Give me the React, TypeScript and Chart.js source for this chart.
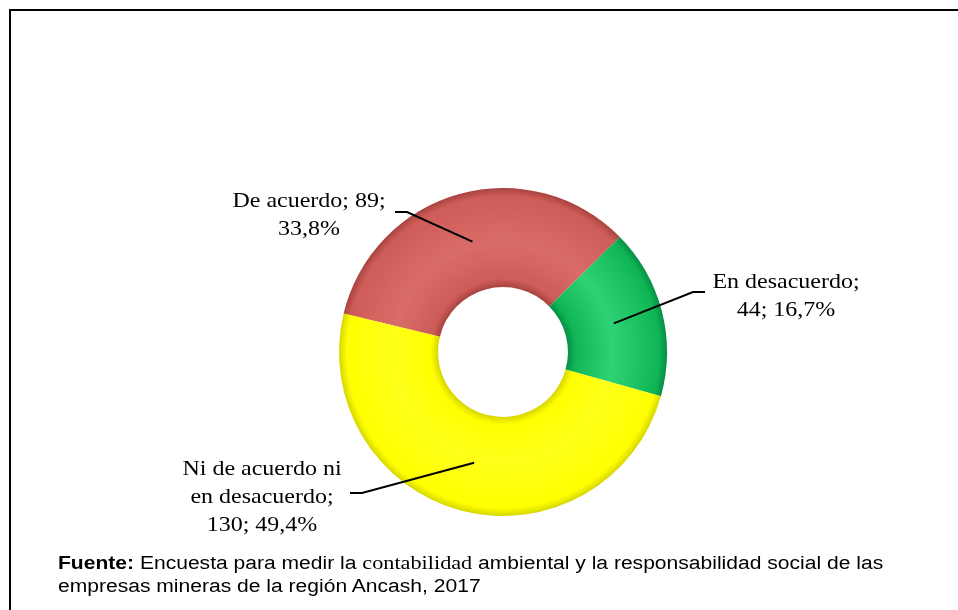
import React, { useEffect, useRef } from "react";
import { Chart, registerables } from "chart.js";

Chart.register(...registerables);

// ---- data ----
const categories = ["De acuerdo", "En desacuerdo", "Ni de acuerdo ni en desacuerdo"];
const counts = [89, 44, 130];

// ---- styles ----
const baseColors = ["#CE5C58", "#10B655", "#FFFF00"];
const lightColors = ["#D96C68", "#2ED274", "#FFFF1A"];
const edgeColors = ["#A8433F", "#068F46", "#D6D600"];

// label placement (text block centre x, first baseline y, leader stub)
const labelLayout = [
  { x: 309, y: 207, lineY: 212, stubFrom: 395, stubTo: 407 },
  { x: 786, y: 288, lineY: 292, stubFrom: 705, stubTo: 693 },
  { x: 262, y: 475, lineY: 493, stubFrom: 350, stubTo: 362 },
];

const LABEL_FONT = "22px 'Liberation Serif', 'Times New Roman', serif";
const LABEL_SCALE_X = 1.09;
const LABEL_LINE_H = 28;
const LABEL_MAX_W = 170;

function pct(v: number, total: number) {
  return ((v / total) * 100).toFixed(1).replace(".", ",");
}

function wrap(ctx: CanvasRenderingContext2D, text: string, maxW: number) {
  const words = text.split(" ");
  const lines: string[] = [];
  let cur = "";
  for (const w of words) {
    const test = cur ? cur + " " + w : w;
    if (cur && ctx.measureText(test).width * LABEL_SCALE_X > maxW) {
      lines.push(cur);
      cur = w;
    } else cur = test;
  }
  if (cur) lines.push(cur);
  return lines;
}

const labelPlugin = {
  id: "leaderLabels",
  afterDatasetsDraw(chart: any) {
    const ctx: CanvasRenderingContext2D = chart.ctx;
    const meta = chart.getDatasetMeta(0);
    const data = chart.data.datasets[0].data as number[];
    const total = data.reduce((a, b) => a + b, 0);
    ctx.save();
    ctx.font = LABEL_FONT;
    ctx.fillStyle = "#000";
    ctx.textAlign = "center";
    ctx.textBaseline = "alphabetic";
    meta.data.forEach((arc: any, i: number) => {
      const lay = labelLayout[i];
      const text = `${chart.data.labels[i]}; ${data[i]}; ${pct(data[i], total)}%`;
      const lines = wrap(ctx, text, LABEL_MAX_W);
      lines.forEach((ln, k) => {
        ctx.save();
        ctx.translate(lay.x, lay.y + k * LABEL_LINE_H);
        ctx.scale(LABEL_SCALE_X, 1);
        ctx.fillText(ln, 0, 0);
        ctx.restore();
      });
      const p = arc.getCenterPoint();
      ctx.beginPath();
      ctx.strokeStyle = "#000";
      ctx.lineWidth = 2;
      ctx.moveTo(lay.stubFrom, lay.lineY);
      ctx.lineTo(lay.stubTo, lay.lineY);
      ctx.lineTo(p.x, p.y);
      ctx.stroke();
    });
    ctx.restore();
  },
};

export default function App() {
  const ref = useRef<HTMLCanvasElement | null>(null);

  useEffect(() => {
    if (!ref.current) return;
    const chart = new Chart(ref.current, {
      type: "doughnut",
      data: {
        labels: categories,
        datasets: [
          {
            data: counts,
            borderWidth: 0,
            backgroundColor: (c: any) => {
              const i = c.dataIndex;
              const ch = c.chart;
              const area = ch.chartArea;
              if (!area) return baseColors[i];
              const cx = (area.left + area.right) / 2;
              const cy = (area.top + area.bottom) / 2;
              const outer = Math.min(area.right - area.left, area.bottom - area.top) / 2;
              const inner = outer * 0.396;
              const g = ch.ctx.createRadialGradient(cx, cy, inner, cx, cy, outer);
              g.addColorStop(0, edgeColors[i]);
              g.addColorStop(0.08, baseColors[i]);
              g.addColorStop(0.45, lightColors[i]);
              g.addColorStop(0.92, baseColors[i]);
              g.addColorStop(1, edgeColors[i]);
              return g;
            },
          },
        ],
      },
      options: {
        responsive: false,
        animation: false,
        devicePixelRatio: 1,
        rotation: -76.4,
        cutout: "39.6%",
        layout: { padding: { left: 339, right: 291, top: 188, bottom: 94 } },
        plugins: {
          legend: { display: false },
          tooltip: { enabled: false },
        },
      } as any,
      plugins: [labelPlugin],
    });
    return () => chart.destroy();
  }, []);

  return (
    <div
      style={{
        position: "absolute",
        left: 0,
        top: 0,
        width: 958,
        height: 610,
        background: "#fff",
        overflow: "hidden",
      }}
    >
      <canvas ref={ref} width={958} height={610} style={{ position: "absolute", left: 0, top: 0 }} />
      <div
        style={{
          position: "absolute",
          left: 9,
          top: 9,
          width: 949,
          height: 601,
          boxSizing: "border-box",
          borderTop: "2px solid #000",
          borderLeft: "2px solid #000",
          pointerEvents: "none",
        }}
      />
      <div
        style={{
          position: "absolute",
          left: 58,
          top: 551,
          fontFamily: "'Liberation Sans', Arial, sans-serif",
          fontSize: 18,
          lineHeight: "23px",
          color: "#000",
          whiteSpace: "nowrap",
          transform: "scaleX(1.17)",
          transformOrigin: "left top",
        }}
      >
        <b>Fuente:</b> Encuesta para medir la{" "}
        <span style={{ fontFamily: "'Liberation Serif', 'Times New Roman', serif", fontSize: 19 }}>
          contabilidad
        </span>{" "}
        ambiental y la responsabilidad social de las
        <br />
        empresas mineras de la región Ancash, 2017
      </div>
    </div>
  );
}
